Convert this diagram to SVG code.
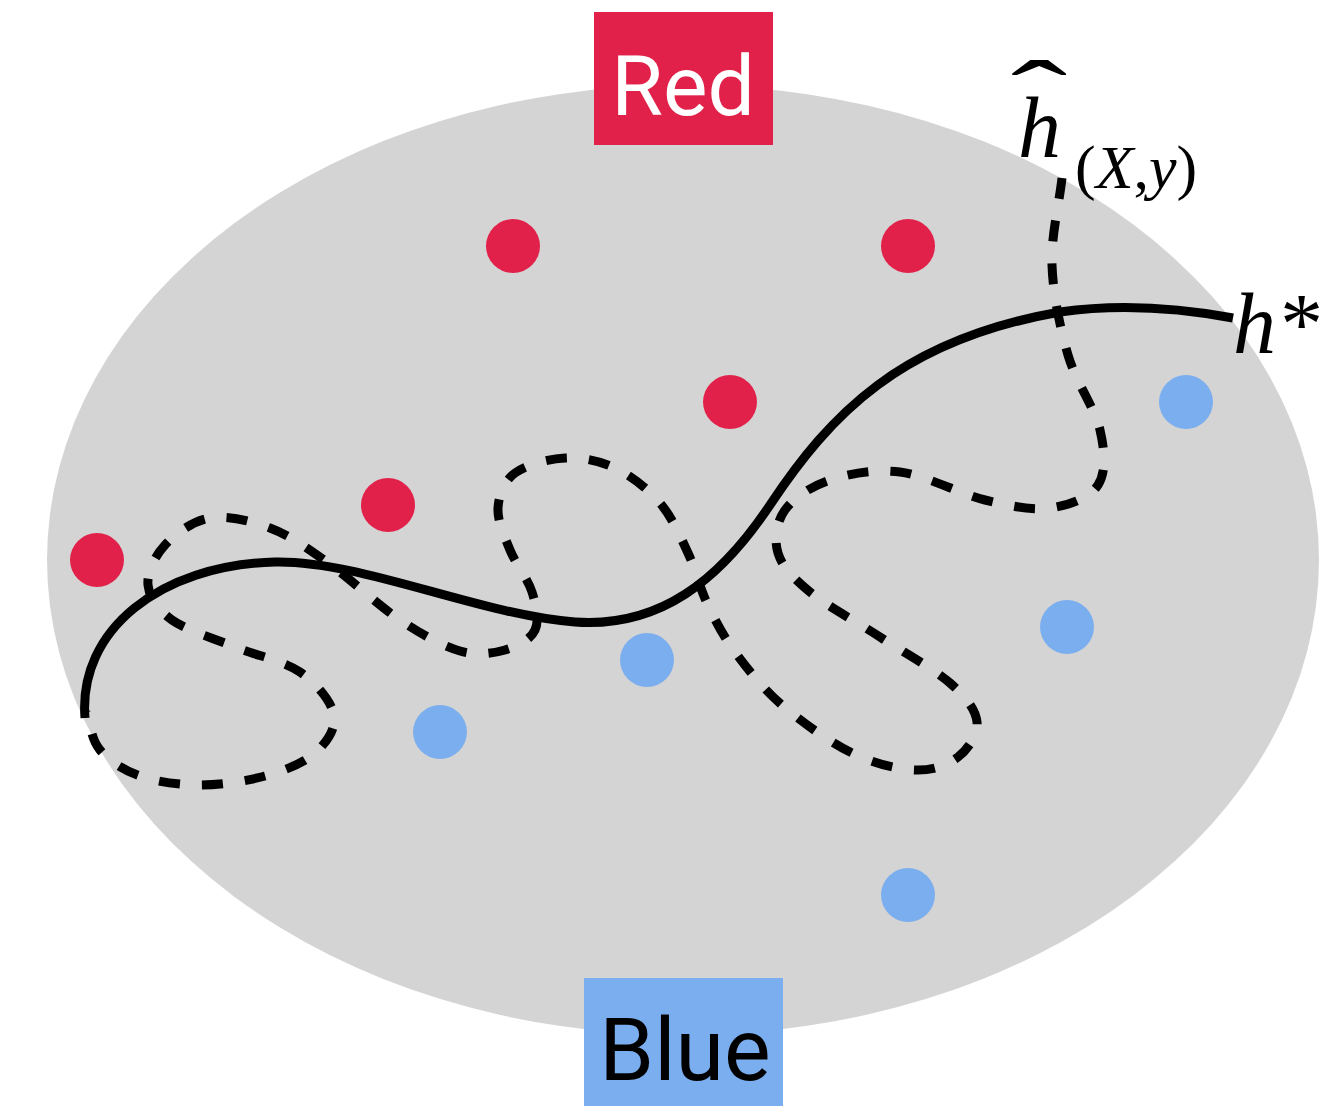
<svg xmlns="http://www.w3.org/2000/svg" width="1334" height="1106" viewBox="0 0 1334 1106">
<style>
.red{fill:#E2214A}
.blue{fill:#7BAEEE}
.lbl{font-family:Roboto,"Liberation Sans",sans-serif;text-anchor:middle}
.math{font-family:"Liberation Serif","DejaVu Serif",serif}
.curve{fill:none;stroke:#000;stroke-width:9}
</style>
<rect width="1334" height="1106" fill="#fff"/>
<ellipse id="region" cx="683" cy="560" rx="636" ry="475" fill="#D4D4D4"/>
<g id="red-label"><rect x="594" y="12" width="179" height="133" class="red"/><text x="683" y="115" class="lbl" font-size="84" fill="#fff">Red</text></g>
<g id="blue-label"><rect x="584" y="978" width="199" height="128" class="blue"/><text x="685" y="1080" class="lbl" font-size="88" fill="#000">Blue</text></g>
<g id="red-points">
<circle cx="513" cy="246" r="27" class="red"/>
<circle cx="908" cy="246" r="27" class="red"/>
<circle cx="730" cy="402" r="27" class="red"/>
<circle cx="388" cy="505" r="27" class="red"/>
<circle cx="97" cy="560" r="27" class="red"/>
</g>
<g id="blue-points">
<circle cx="1186" cy="402" r="27" class="blue"/>
<circle cx="1067" cy="627" r="27" class="blue"/>
<circle cx="647" cy="660" r="27" class="blue"/>
<circle cx="440" cy="732" r="27" class="blue"/>
<circle cx="908" cy="895" r="27" class="blue"/>
</g>
<g id="connectors">
<path id="h-hat" class="curve" stroke-dasharray="21 22" d="M1062,178 C1058.7,207 1051,235.5 1052,265 C1053,294.5 1060,327.5 1068,355 C1076,382.5 1095,408.3 1100,430 C1105,451.7 1106.3,472 1098,485 C1089.7,498 1068.8,505.5 1050,508 C1031.2,510.5 1010,506 985,500 C960,494 925.8,475.3 900,472 C874.2,468.7 849.2,473.7 830,480 C810.8,486.3 793.7,497.8 785,510 C776.3,522.2 773.8,539.3 778,553 C782.2,566.7 793,578 810,592 C827,606 856.7,621.8 880,637 C903.3,652.2 933.8,668.8 950,683 C966.2,697.2 975.7,709.7 977,722 C978.3,734.3 968.3,749 958,757 C947.7,765 932.7,770.7 915,770 C897.3,769.3 874.2,763.8 852,753 C829.8,742.2 801.5,721.8 782,705 C762.5,688.2 747.5,669 735,652 C722.5,635 714.8,619.5 707,603 C699.2,586.5 695.8,569.7 688,553 C680.2,536.3 672.2,517.2 660,503 C647.8,488.8 630.8,475.5 615,468 C599.2,460.5 581.7,457.2 565,458 C548.3,458.8 526.2,464.7 515,473 C503.8,481.3 498.8,495.2 498,508 C497.2,520.8 504.3,536 510,550 C515.7,564 527.8,578.7 532,592 C536.2,605.3 539.5,620.3 535,630 C530.5,639.7 517.5,646.5 505,650 C492.5,653.5 477.5,656 460,651 C442.5,646 422.2,634.8 400,620 C377.8,605.2 348.7,577.3 327,562 C305.3,546.7 289.5,535.3 270,528 C250.5,520.7 227.5,515.2 210,518 C192.5,520.8 175.3,533.8 165,545 C154.7,556.2 146.8,572.5 148,585 C149.2,597.5 157.5,609.7 172,620 C186.5,630.3 213.7,638.3 235,647 C256.3,655.7 283.5,660.7 300,672 C316.5,683.3 331.5,701.5 334,715 C336.5,728.5 326.5,742.8 315,753 C303.5,763.2 284.2,770.7 265,776 C245.8,781.3 220.8,785 200,785 C179.2,785 156.7,781.8 140,776 C123.3,770.2 109,760.7 100,750 C91,739.3 90.7,724.7 86,712"/>
<path id="h-star" class="curve" d="M85,718 C78,630 160,565 275,562 C360,560 480,615 575,622 C660,628 720,580 770,505 C830,415 900,340 1060,312 C1130,302 1190,310 1233,318"/>
</g>
<g id="h-star-label"><text x="1233" y="353" class="math" font-size="86" font-style="italic">h*</text></g>
<g id="h-hat-label">
<text x="1018" y="157" class="math" font-size="86" font-style="italic">h</text>
<text transform="translate(1039,130) scale(1.7,1)" class="math" font-size="100" text-anchor="middle">ˆ</text>
<text x="1075" y="188" class="math" font-size="62">(<tspan font-style="italic">X</tspan>,<tspan font-style="italic">y</tspan>)</text>
</g>
</svg>
